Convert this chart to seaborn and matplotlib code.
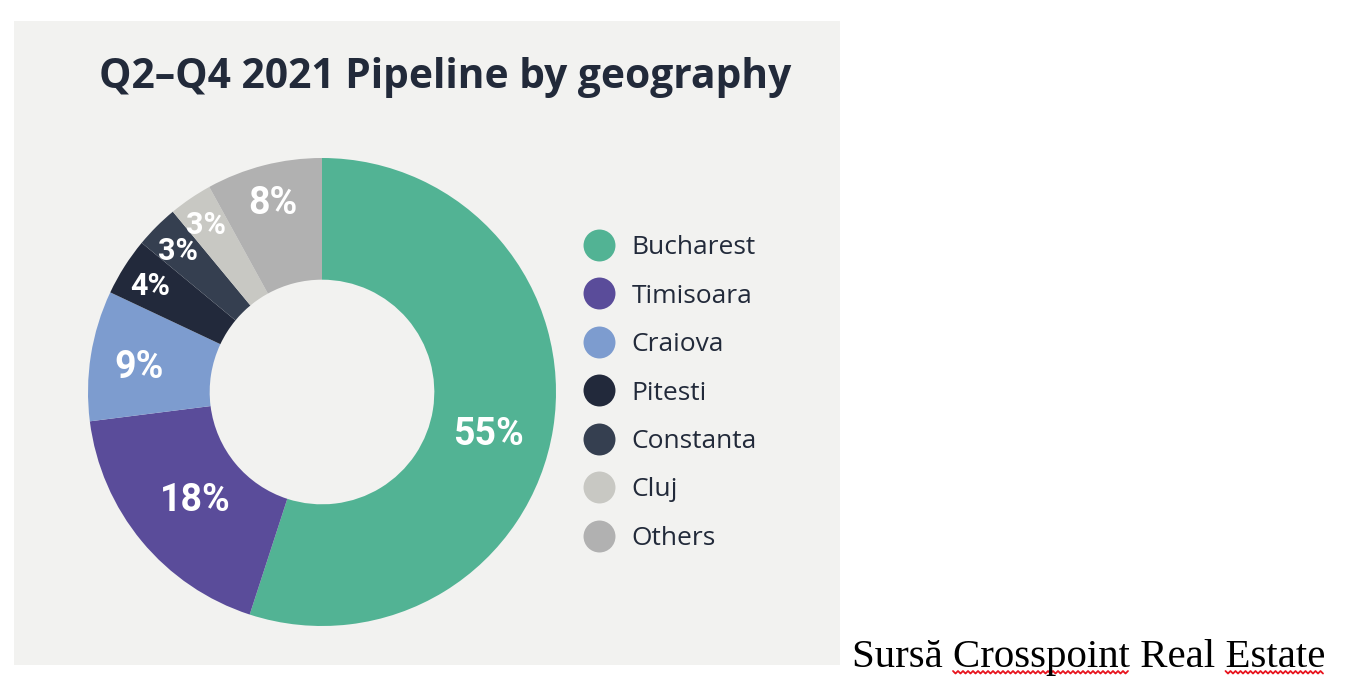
import matplotlib
matplotlib.use("Agg")
import numpy as np
import matplotlib.pyplot as plt
from matplotlib.patches import Rectangle
from matplotlib.lines import Line2D
import seaborn as sns

# data
regions = ["Bucharest", "Timisoara", "Craiova", "Pitesti", "Constanta", "Cluj", "Others"]
shares = [55, 18, 9, 4, 3, 3, 8]

title = "Q2\u2013Q4 2021 Pipeline by geography"
source = "Surs\u0103 Crosspoint Real Estate"
flagged_words = ["Crosspoint", "Estate"]

# styling
colors = ["#52b394", "#5a4c9a", "#7d9ccf", "#22293b", "#353f50", "#c8c8c3", "#b1b1b1"]
label_dist = [0.73, 0.70, 0.79, 0.87, 0.87, 0.88, 0.85]
panel_color = "#f2f2f0"
ink = "#222a3a"

sns.set_theme(style="white")
plt.rcParams["font.family"] = ["Open Sans", "DejaVu Sans"]

W, H = 1350, 696
fig = plt.figure(figsize=(W / 100, H / 100), dpi=100)
fig.patch.set_facecolor("white")

# grey panel behind the chart
fig.patches.append(Rectangle((14 / W, 1 - 665 / H), (840 - 14) / W, (665 - 21) / H,
                             transform=fig.transFigure, facecolor=panel_color,
                             edgecolor="none", zorder=-5))

# donut axes: centre (322, 392), radius 234 px
cx, cy, r = 322, 392, 234
ax = fig.add_axes([(cx - r) / W, 1 - (cy + r) / H, 2 * r / W, 2 * r / H])
ax.set_zorder(2)
ax.set_facecolor("none")
wedges, _ = ax.pie(shares, colors=colors, startangle=90, counterclock=False,
                   radius=1, wedgeprops=dict(width=0.52, linewidth=0))
ax.set_xlim(-1, 1)
ax.set_ylim(-1, 1)
ax.set_aspect("equal")
ax.axis("off")

# percentage labels
for w, v, d in zip(wedges, shares, label_dist):
    ang = np.deg2rad((w.theta1 + w.theta2) / 2)
    if v > 50:
        ang -= np.deg2rad(4)
    size = 27 if v >= 8 else 22
    ax.text(d * np.cos(ang), d * np.sin(ang), f"{v}%", ha="center", va="center_baseline",
            color="white", fontsize=size, fontweight="bold", family=["Roboto", "DejaVu Sans"])

fig.text(445 / W, 1 - 78 / H, title, ha="center", va="center",
         fontsize=29.3, fontweight="bold", color=ink)

handles = [Line2D([0], [0], marker="o", linestyle="none", markersize=23,
                  markerfacecolor=c, markeredgecolor="none") for c in colors]
fig.legend(handles, regions, loc="center left", bbox_to_anchor=(581 / W, 1 - 393 / H),
           frameon=False, fontsize=19, handlelength=1.4, handletextpad=0.52,
           labelspacing=0.89, borderpad=0, borderaxespad=0, labelcolor=ink)

# source line, with the spell-check squiggles seen in the screenshot
src_kw = dict(fontsize=29.4, color="black", family=["Liberation Serif", "DejaVu Serif"])
src_x, src_base = 852, 667
fig.text(src_x / W, 1 - src_base / H, source, ha="left", va="baseline", **src_kw)
renderer = fig.canvas.get_renderer()


def text_width(s):
    t = fig.text(0, 0, s, **src_kw)
    wpx = t.get_window_extent(renderer).width
    t.remove()
    return wpx


for word in flagged_words:
    i = source.index(word)
    x0 = src_x + text_width(source[:i]) if i else src_x
    x1 = src_x + text_width(source[:i + len(word)])
    xs = np.arange(x0, x1 + 0.1, 2.5)
    ys = src_base + 4 + np.where(np.arange(len(xs)) % 2 == 0, 0, 2.5)
    fig.add_artist(Line2D(xs / W, 1 - ys / H, transform=fig.transFigure,
                          color="#e8141e", lw=1.3))

plt.savefig("out.png", dpi=100, facecolor="white")
